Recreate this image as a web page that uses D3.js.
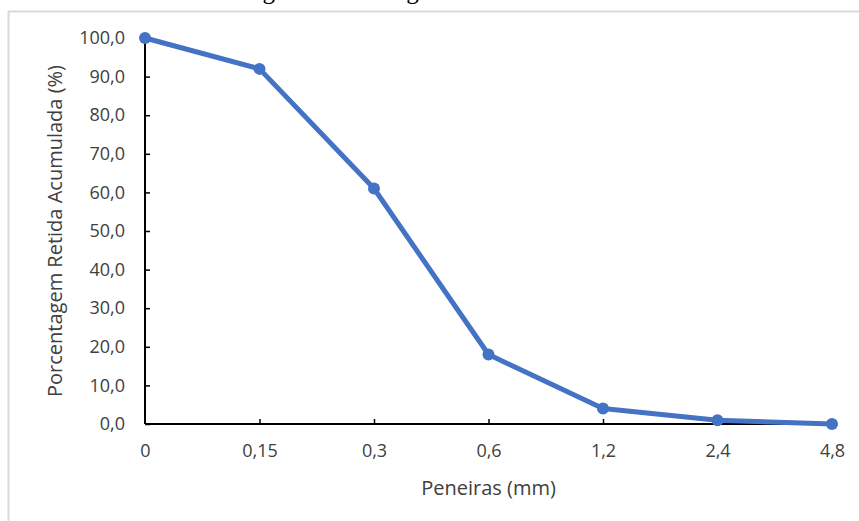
<!DOCTYPE html>
<html>
<head>
<meta charset="utf-8">
<script src="https://cdn.jsdelivr.net/npm/d3@7"></script>
<style>
  body { margin: 0; background: #fff; }
  .axis text { font-family: "Open Sans", Lato, sans-serif; font-size: 18px; fill: #404040; }
  .axlabel { font-family: "Open Sans", Lato, sans-serif; font-size: 20px; fill: #404040; }
</style>
</head>
<body>
<div class="chart"></div>
<script>
// sieve sizes (mm) and cumulative retained percentage
var sieves = ["0", "0,15", "0,3", "0,6", "1,2", "2,4", "4,8"];
var retained = [100, 92, 61, 18, 4, 1, 0];
var yTicks = [0, 10, 20, 30, 40, 50, 60, 70, 80, 90, 100];

var data = sieves.map(function(s, i) { return {sieve: s, pct: retained[i]}; });

var margin = ({top: 38, right: 27, bottom: 97, left: 145});
var width = 859 - margin.left - margin.right,
    height = 521 - margin.top - margin.bottom;

var root = d3.select(".chart").append("svg")
    .attr("width", 859)
    .attr("height", 521);

// caption, cut off at the top of the picture as in the original
root.append("text")
    .attr("x", 442)
    .attr("y", -1)
    .attr("text-anchor", "middle")
    .style("font-family", "'Liberation Serif', serif")
    .style("font-size", "25px")
    .attr("fill", "#000")
    .text("Figura 1: Curva granulométrica da areia");

// chart frame
root.append("rect")
    .attr("x", 8.5)
    .attr("y", 11.5)
    .attr("width", 900)
    .attr("height", 600)
    .attr("fill", "none")
    .attr("stroke", "#d9d9d9")
    .attr("stroke-width", 2);

var svg = root.append("g")
    .attr("transform", "translate(" + margin.left + "," + margin.top + ")");

const xScale = d3.scalePoint()
    .domain(sieves)
    .range([0, width]);

const yScale = d3.scaleLinear()
    .domain([0, 100])
    .range([height, 0]);

const xAxis = d3.axisBottom()
    .scale(xScale)
    .tickSize(-5)
    .tickPadding(20);

const xAxisGroup = svg.append("g")
    .attr("class", "axis x-axis")
    .attr("transform", `translate(0, ${height})`)
    .call(xAxis);

xAxisGroup.select(".domain").attr("d", "M0,0H" + width).attr("stroke", "#000").attr("stroke-width", 2);
xAxisGroup.selectAll(".tick line").attr("stroke", "#000").attr("stroke-width", 1.5);
xAxisGroup.selectAll(".tick").filter(function(d, i) { return i === 0; }).select("line").remove();

const yAxis = d3.axisLeft()
    .scale(yScale)
    .tickValues(yTicks)
    .tickFormat(function(d) { return d3.format(".1f")(d).replace(".", ","); })
    .tickSize(-5)
    .tickPadding(20);

const yAxisGroup = svg.append("g")
    .attr("class", "axis y-axis")
    .call(yAxis);

yAxisGroup.select(".domain").attr("d", "M0," + height + "V0").attr("stroke", "#000").attr("stroke-width", 2);
yAxisGroup.selectAll(".tick line").attr("stroke", "#000").attr("stroke-width", 1.5);

svg.append("text")
    .attr("class", "axlabel")
    .attr("text-anchor", "middle")
    .attr("x", xScale("0,6"))
    .attr("y", height + 71)
    .text("Peneiras (mm)");

svg.append("text")
    .attr("class", "axlabel")
    .attr("text-anchor", "middle")
    .attr("transform", "translate(-83," + (height / 2) + ") rotate(-90)")
    .text("Porcentagem Retida Acumulada (%)");

const line = d3.line()
    .x(d => xScale(d.sieve))
    .y(d => yScale(d.pct));

svg.append("path")
    .datum(data)
    .attr("fill", "none")
    .attr("stroke", "#4472C4")
    .attr("stroke-width", 5)
    .attr("stroke-linejoin", "round")
    .attr("d", line);

svg.append("g")
    .selectAll("circle")
    .data(data)
    .enter()
    .append("circle")
    .attr("cx", d => xScale(d.sieve))
    .attr("cy", d => yScale(d.pct))
    .attr("r", 6)
    .attr("fill", "#4472C4");
</script>
</body>
</html>
